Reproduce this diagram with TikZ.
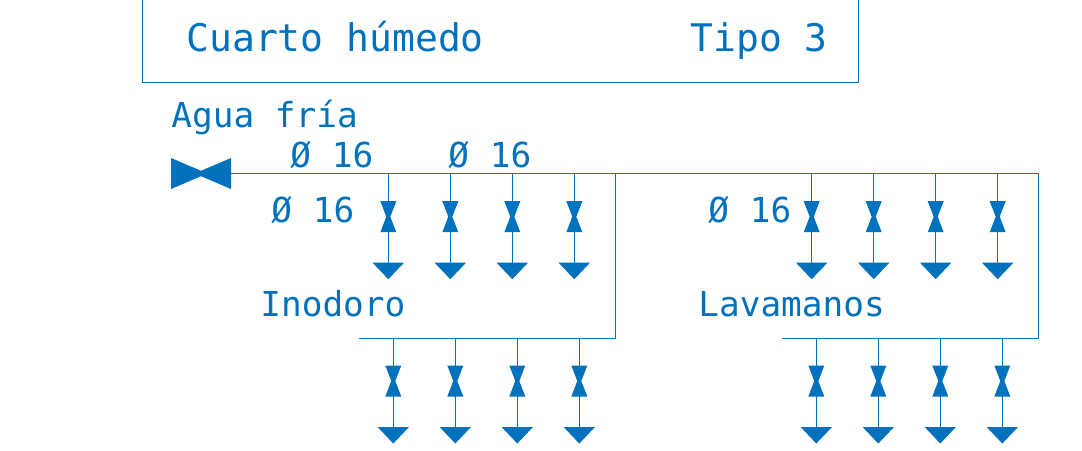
\documentclass[tikz,border=0pt]{standalone}
\usepackage{fontspec}
\setmonofont{DejaVu Sans Mono}
\definecolor{pipe}{HTML}{0071BC}
\tikzset{
  pipeline/.style={draw=pipe,line width=0.5pt},
  lbl/.style={text=pipe,inner sep=0pt,anchor=base west,font=\ttfamily\fontsize{17.2}{20}\selectfont},
  ttl/.style={text=pipe,inner sep=0pt,anchor=base west,font=\ttfamily\fontsize{19}{22}\selectfont},
  drop/.pic={
    \fill[pipe] (-8,27.5) -- (8,27.5) -- (2,43) -- (8,58.5) -- (-8,58.5) -- (-2,43) -- cycle;
    \fill[pipe] (-15.7,89) -- (15.7,89) -- (0,105.5) -- cycle;
  }
}
\begin{document}
\begin{tikzpicture}[x=0.5pt,y=-0.5pt]
\useasboundingbox (0,0) rectangle (1082,450);
% title box
\coordinate (boxTL) at (142,0);
\coordinate (boxBL) at (142,82);
\coordinate (boxBR) at (858,82);
\coordinate (boxTR) at (858,0);
\draw[pipeline] (boxTL) -- (boxBL) -- (boxBR) -- (boxTR);
\node[ttl] (title) at (186,51) {Cuarto húmedo};
\node[ttl] (tipo) at (690,51) {Tipo 3};
% labels
\node[lbl] (agua) at (171,127) {Agua fría};
\node[lbl] (d1) at (290,167) {Ø 16};
\node[lbl] (d2) at (448,167) {Ø 16};
\node[lbl] (d3) at (271,222) {Ø 16};
\node[lbl] (d4) at (708,222) {Ø 16};
\node[lbl] (ino) at (260,316) {Inodoro};
\node[lbl] (lav) at (698,316) {Lavamanos};
% main valve
\fill[pipe] (171,158) -- (201,170.8) -- (231,158) -- (231,189) -- (201,176.2) -- (171,189) -- cycle;
% main pipes
\coordinate (mainS) at (231,173.7);
\coordinate (mainE) at (1038,173.7);
\coordinate (rightE) at (1038,338);
\coordinate (rightS) at (782,338);
\coordinate (teeT) at (615.7,173.7);
\coordinate (teeB) at (615.7,338);
\coordinate (leftS) at (359,338);
\draw[pipeline] (mainS) -- (mainE) -- (rightE) -- (rightS);
\draw[pipeline] (teeT) -- (teeB) -- (leftS);
% drops from the upper pipe
\foreach \x in {388.3,450.3,512.3,574.3,811.7,873.7,935.7,997.7}{
  \coordinate (a) at (\x,173.7);
  \coordinate (b) at (\x,263);
  \draw[pipeline] (a) -- (b);
  \pic at (\x,173.7) {drop};
}
% drops from the lower pipes
\foreach \x in {393.3,455.3,517.3,579.3,816.3,878.3,940.3,1002.3}{
  \coordinate (a) at (\x,338);
  \coordinate (b) at (\x,427);
  \draw[pipeline] (a) -- (b);
  \pic at (\x,338) {drop};
}
\end{tikzpicture}
\end{document}
